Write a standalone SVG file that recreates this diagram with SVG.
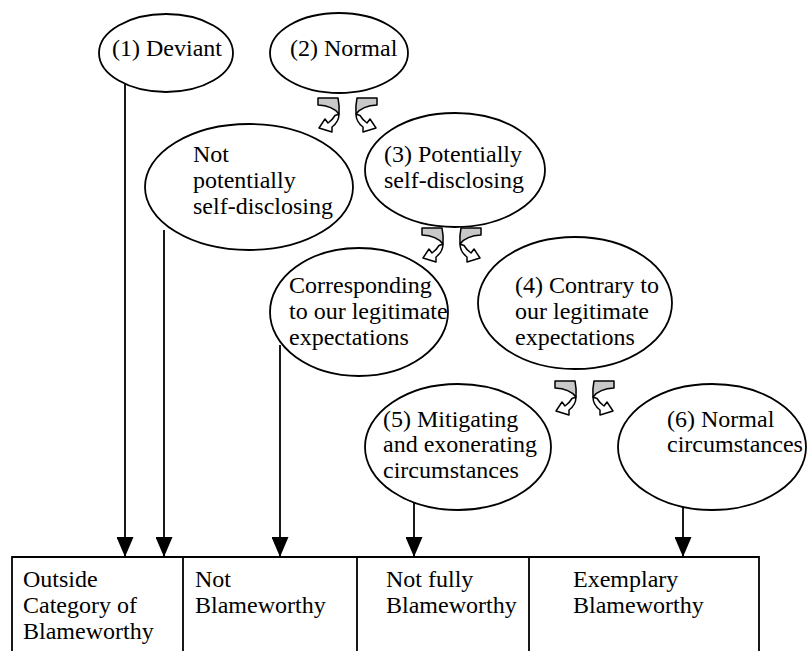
<svg xmlns="http://www.w3.org/2000/svg" xmlns:xlink="http://www.w3.org/1999/xlink" width="810" height="651" viewBox="0 0 810 651">
<style>
  .node { fill: #ffffff; stroke: #000000; stroke-width: 1.8; }
  .lbl { font-family: "Liberation Serif", "Times New Roman", serif; font-size: 24px; fill: #000000; }
  .conn { stroke: #000000; stroke-width: 1.8; fill: none; }
  .cell { stroke: #000000; stroke-width: 1.8; fill: none; }
  .gray { fill: #c8c8c8; stroke: #000000; stroke-width: 1.5; stroke-linejoin: round; }
  .white { fill: #ffffff; stroke: #000000; stroke-width: 1.5; stroke-linejoin: round; }
</style>
<defs>
  <marker id="head" markerUnits="userSpaceOnUse" markerWidth="20" markerHeight="17" refX="20" refY="8.5" orient="auto" viewBox="0 0 20 17">
    <path d="M0,0 L20,8.5 L0,17 Z" fill="#000000"/>
  </marker>
  <g id="curl">
    <path class="gray" d="M0,1 H20 C21,6 21.5,12 21,17 C18,13 12,8.5 0,8 Z"/>
    <path class="white" d="M21,17 C21,23 18,27 14,30 L14,35 L1,31 L7,22 L10,26 C13,24 15.5,21 17,18.5 Z"/>
  </g>
</defs>

<g id="table">
  <path class="cell" d="M12,660 V557 H759 V660 M183,557 V660 M357,557 V660 M529,557 V660"/>
  <g id="cell-outside">
    <text class="lbl" x="23" y="587">Outside</text>
    <text class="lbl" x="23" y="613">Category of</text>
    <text class="lbl" x="23" y="639">Blameworthy</text>
  </g>
  <g id="cell-not">
    <text class="lbl" x="195" y="587">Not</text>
    <text class="lbl" x="195" y="613">Blameworthy</text>
  </g>
  <g id="cell-notfully">
    <text class="lbl" x="386" y="587">Not fully</text>
    <text class="lbl" x="386" y="613">Blameworthy</text>
  </g>
  <g id="cell-exemplary">
    <text class="lbl" x="573" y="587">Exemplary</text>
    <text class="lbl" x="573" y="613">Blameworthy</text>
  </g>
</g>

<g id="connectors">
  <line class="conn" x1="125" y1="84" x2="125" y2="557" marker-end="url(#head)"/>
  <line class="conn" x1="164" y1="230" x2="164" y2="557" marker-end="url(#head)"/>
  <line class="conn" x1="280" y1="345" x2="280" y2="557" marker-end="url(#head)"/>
  <line class="conn" x1="414" y1="501" x2="414" y2="557" marker-end="url(#head)"/>
  <line class="conn" x1="683" y1="505" x2="683" y2="557" marker-end="url(#head)"/>
  <g id="curved-arrows">
    <use xlink:href="#curl" transform="translate(318,97)"/>
    <use xlink:href="#curl" transform="translate(377,97) scale(-1,1)"/>
    <use xlink:href="#curl" transform="translate(422,227)"/>
    <use xlink:href="#curl" transform="translate(481,227) scale(-1,1)"/>
    <use xlink:href="#curl" transform="translate(555,380)"/>
    <use xlink:href="#curl" transform="translate(614,380) scale(-1,1)"/>
  </g>
</g>

<g id="n1-deviant">
  <ellipse class="node" cx="166" cy="53" rx="67" ry="39"/>
  <text class="lbl" x="112" y="56">(1) Deviant</text>
</g>
<g id="n2-normal">
  <ellipse class="node" cx="339" cy="53" rx="69" ry="40"/>
  <text class="lbl" x="290" y="56">(2) Normal</text>
</g>
<g id="n-not-potentially">
  <ellipse class="node" cx="249" cy="187" rx="104" ry="63"/>
  <text class="lbl" x="193" y="162">Not</text>
  <text class="lbl" x="193" y="188">potentially</text>
  <text class="lbl" x="193" y="214">self-disclosing</text>
</g>
<g id="n3-potentially">
  <ellipse class="node" cx="455" cy="170" rx="90" ry="57"/>
  <text class="lbl" x="384" y="162">(3) Potentially</text>
  <text class="lbl" x="384" y="188">self-disclosing</text>
</g>
<g id="n-corresponding">
  <ellipse class="node" cx="359" cy="312" rx="89" ry="64"/>
  <text class="lbl" x="289" y="293">Corresponding</text>
  <text class="lbl" x="289" y="319">to our legitimate</text>
  <text class="lbl" x="289" y="345">expectations</text>
</g>
<g id="n4-contrary">
  <ellipse class="node" cx="575" cy="303" rx="97" ry="66"/>
  <text class="lbl" x="515" y="293">(4) Contrary to</text>
  <text class="lbl" x="515" y="319">our legitimate</text>
  <text class="lbl" x="515" y="345">expectations</text>
</g>
<g id="n5-mitigating">
  <ellipse class="node" cx="458" cy="447" rx="93" ry="63"/>
  <text class="lbl" x="383" y="427">(5) Mitigating</text>
  <text class="lbl" x="383" y="452">and exonerating</text>
  <text class="lbl" x="383" y="478">circumstances</text>
</g>
<g id="n6-normal-circumstances">
  <ellipse class="node" cx="712" cy="447" rx="94" ry="63"/>
  <text class="lbl" x="667" y="427">(6) Normal</text>
  <text class="lbl" x="667" y="452">circumstances</text>
</g>
</svg>
